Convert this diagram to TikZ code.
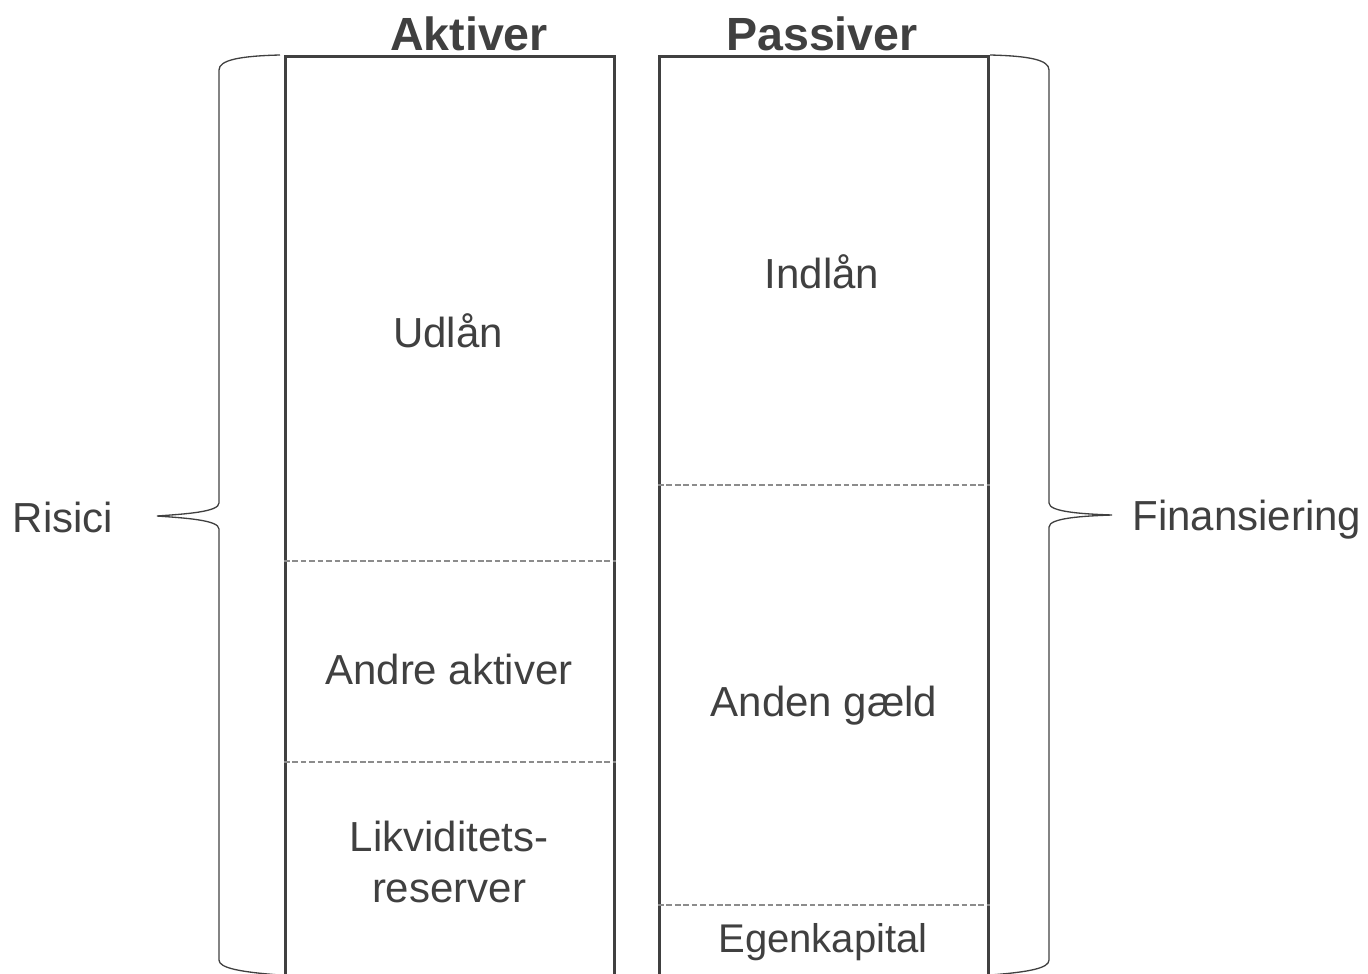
\documentclass[tikz,border=0pt]{standalone}
\usepackage{fontspec}
\setmainfont{Liberation Sans}
\usepackage{xcolor}
\usetikzlibrary{positioning, calc}

\definecolor{ink}{HTML}{404040}
\definecolor{sep}{HTML}{8C8C8C}

\begin{document}
\begin{tikzpicture}[
    x=0.02cm, y=-0.02cm,
    every node/.style={text=ink, font=\fontsize{23.9}{29}\selectfont},
    title/.style={font=\fontsize{26.5}{30}\selectfont\bfseries},
    column/.style={rectangle, draw=ink, line width=1.5pt, anchor=north west, minimum width=6.58cm, minimum height=19cm, inner sep=0pt},
    divider/.style={draw=sep, line width=0.6pt, dash pattern=on 3.2pt off 1.6pt},
    brace/.style={draw=ink, line width=0.75pt}
]
\clip (0,0) rectangle (1368,973);

% Two columns of the balance
\node[column] (akt) at (284,55) {};
\node[column] (pas) at (658,55) {};

% Headings
\node[title] (takt) at (469,34) {Aktiver};
\node[title] (tpas) at (822,34) {Passiver};

% Dividers
\coordinate (a1l) at (akt.west |- 0,561);
\coordinate (a1r) at (akt.east |- 0,561);
\coordinate (a2l) at (akt.west |- 0,762);
\coordinate (a2r) at (akt.east |- 0,762);
\coordinate (p1l) at (pas.west |- 0,485);
\coordinate (p1r) at (pas.east |- 0,485);
\coordinate (p2l) at (pas.west |- 0,905);
\coordinate (p2r) at (pas.east |- 0,905);
\draw[divider] (a1l) -- (a1r);
\draw[divider] (a2l) -- (a2r);
\draw[divider] (p1l) -- (p1r);
\draw[divider] (p2l) -- (p2r);

% Posts
\node (udl) at (448,331) {Udlån};
\node (andre) at (449,669) {Andre aktiver};
\node[align=center] (likv) at (449,862) {Likviditets-\\reserver};
\node (indl) at (822,272) {Indlån};
\node (gaeld) at (824,706) {Anden gæld};
\node[font=\fontsize{22.8}{27}\selectfont] (egen) at (823,942) {Egenkapital};

% Braces
\node (risici) at (63,517) {Risici};
\node (finans) at (1247,520) {Finansiering};
\coordinate (ltip) at (157,516);
\coordinate (rtip) at (1112,515);
\draw[brace] (280,55) .. controls (240,56) and (219,60) .. (219,70)
  -- (219,503) .. controls (219,512) and (185,514) .. (ltip)
  .. controls (185,518) and (219,520) .. (219,529)
  -- (219,960) .. controls (219,968) and (240,972) .. (280,975);
\draw[brace] (990,55) .. controls (1030,56) and (1049,60) .. (1049,70)
  -- (1049,503) .. controls (1049,512) and (1083,514) .. (rtip)
  .. controls (1083,516) and (1049,518) .. (1049,527)
  -- (1049,960) .. controls (1049,968) and (1030,972) .. (990,975);

\end{tikzpicture}
\end{document}
